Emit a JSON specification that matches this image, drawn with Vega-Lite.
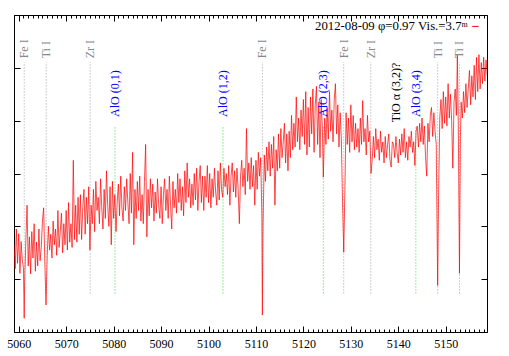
{
"$schema": "https://vega.github.io/schema/vega-lite/v6.json",
"width": 473, "height": 317,
"autosize": {"type": "none"},
"padding": {"left": 14, "top": 15, "right": 22, "bottom": 24},
"config": {
 "font": "Liberation Serif",
 "view": {"stroke": "#000", "strokeWidth": 1},
 "axis": {"grid": false, "domain": false, "tickColor": "#000", "labelFont": "Liberation Serif", "labelFontSize": 12, "labelColor": "#000", "title": null},
 "legend": {"orient": "none", "legendX": 455, "legendY": 5, "padding": 0, "symbolType": "stroke", "symbolSize": 40, "symbolStrokeWidth": 1, "labelAlign": "right", "labelOffset": -14, "labelFont": "Liberation Serif", "labelFontSize": 12.8, "labelColor": "#000", "labelLimit": 400}
},
"datasets": {
 "spec": [
{"w":5059.00,"f":1.65},{"w":5059.25,"f":1.20},{"w":5059.50,"f":1.95},{"w":5059.75,"f":1.30},
{"w":5060.00,"f":1.86},{"w":5060.25,"f":1.11},{"w":5060.50,"f":1.71},{"w":5060.75,"f":1.36},
{"w":5061.00,"f":1.20},{"w":5061.15,"f":0.26},{"w":5061.25,"f":0.95},{"w":5061.50,"f":1.75},{"w":5061.75,"f":2.40},
{"w":5062.00,"f":1.25},{"w":5062.25,"f":1.80},{"w":5062.50,"f":1.10},{"w":5062.75,"f":1.90},
{"w":5063.00,"f":1.40},{"w":5063.25,"f":2.05},{"w":5063.50,"f":1.15},{"w":5063.75,"f":1.70},
{"w":5064.00,"f":1.25},{"w":5064.25,"f":1.95},{"w":5064.50,"f":1.35},{"w":5064.75,"f":1.60},
{"w":5065.00,"f":2.10},{"w":5065.25,"f":2.35},{"w":5065.50,"f":1.30},{"w":5065.75,"f":0.51},
{"w":5066.00,"f":1.45},{"w":5066.25,"f":2.00},{"w":5066.50,"f":1.55},{"w":5066.75,"f":1.85},
{"w":5067.00,"f":1.40},{"w":5067.25,"f":2.10},{"w":5067.50,"f":1.65},{"w":5067.75,"f":1.95},
{"w":5068.00,"f":1.45},{"w":5068.25,"f":2.30},{"w":5068.50,"f":1.60},{"w":5068.75,"f":1.90},
{"w":5069.00,"f":2.25},{"w":5069.25,"f":1.50},{"w":5069.50,"f":2.05},{"w":5069.75,"f":1.65},
{"w":5070.00,"f":2.30},{"w":5070.25,"f":1.55},{"w":5070.50,"f":2.45},{"w":5070.75,"f":1.70},
{"w":5071.00,"f":2.05},{"w":5071.25,"f":1.60},{"w":5071.50,"f":3.25},{"w":5071.75,"f":1.75},
{"w":5072.00,"f":2.40},{"w":5072.25,"f":1.70},{"w":5072.50,"f":2.55},{"w":5072.75,"f":1.85},
{"w":5073.00,"f":2.60},{"w":5073.25,"f":1.75},{"w":5073.50,"f":2.35},{"w":5073.75,"f":2.70},
{"w":5074.00,"f":1.85},{"w":5074.25,"f":2.55},{"w":5074.50,"f":2.05},{"w":5074.75,"f":2.75},
{"w":5075.00,"f":1.55},{"w":5075.25,"f":2.40},{"w":5075.50,"f":2.05},{"w":5075.75,"f":2.70},
{"w":5076.00,"f":1.90},{"w":5076.25,"f":2.85},{"w":5076.50,"f":2.30},{"w":5076.75,"f":2.55},
{"w":5077.00,"f":2.05},{"w":5077.25,"f":2.90},{"w":5077.50,"f":2.35},{"w":5077.75,"f":1.95},
{"w":5078.00,"f":2.70},{"w":5078.25,"f":2.15},{"w":5078.50,"f":3.05},{"w":5078.75,"f":2.40},
{"w":5079.00,"f":2.00},{"w":5079.25,"f":2.75},{"w":5079.50,"f":1.65},{"w":5079.75,"f":2.85},
{"w":5080.00,"f":2.15},{"w":5080.25,"f":2.60},{"w":5080.50,"f":1.90},{"w":5080.75,"f":2.45},
{"w":5081.00,"f":2.80},{"w":5081.25,"f":2.20},{"w":5081.50,"f":2.95},{"w":5081.75,"f":2.35},
{"w":5082.00,"f":2.10},{"w":5082.25,"f":2.75},{"w":5082.50,"f":2.30},{"w":5082.75,"f":2.90},
{"w":5083.00,"f":2.45},{"w":5083.25,"f":2.05},{"w":5083.50,"f":3.00},{"w":5083.75,"f":2.25},
{"w":5084.00,"f":3.40},{"w":5084.25,"f":1.65},{"w":5084.50,"f":2.70},{"w":5084.75,"f":2.15},
{"w":5085.00,"f":2.85},{"w":5085.25,"f":2.30},{"w":5085.50,"f":2.95},{"w":5085.75,"f":2.10},
{"w":5086.00,"f":2.60},{"w":5086.25,"f":2.05},{"w":5086.50,"f":2.85},{"w":5086.75,"f":3.55},
{"w":5087.00,"f":1.80},{"w":5087.25,"f":2.70},{"w":5087.50,"f":2.20},{"w":5087.75,"f":2.90},
{"w":5088.00,"f":2.35},{"w":5088.25,"f":2.80},{"w":5088.50,"f":2.10},{"w":5088.75,"f":2.65},
{"w":5089.00,"f":2.25},{"w":5089.25,"f":2.90},{"w":5089.50,"f":2.40},{"w":5089.75,"f":2.15},
{"w":5090.00,"f":2.75},{"w":5090.25,"f":2.05},{"w":5090.50,"f":2.60},{"w":5090.75,"f":2.90},
{"w":5091.00,"f":2.30},{"w":5091.25,"f":2.70},{"w":5091.50,"f":2.15},{"w":5091.75,"f":2.95},
{"w":5092.00,"f":2.40},{"w":5092.25,"f":1.95},{"w":5092.50,"f":2.85},{"w":5092.75,"f":2.35},
{"w":5093.00,"f":2.70},{"w":5093.25,"f":2.25},{"w":5093.50,"f":3.00},{"w":5093.75,"f":2.45},
{"w":5094.00,"f":2.90},{"w":5094.25,"f":2.30},{"w":5094.50,"f":2.75},{"w":5094.75,"f":2.20},
{"w":5095.00,"f":3.05},{"w":5095.25,"f":2.45},{"w":5095.50,"f":3.20},{"w":5095.75,"f":2.55},
{"w":5096.00,"f":2.90},{"w":5096.25,"f":2.35},{"w":5096.50,"f":2.80},{"w":5096.75,"f":2.40},
{"w":5097.00,"f":3.00},{"w":5097.25,"f":2.50},{"w":5097.50,"f":3.10},{"w":5097.75,"f":2.30},
{"w":5098.00,"f":2.85},{"w":5098.25,"f":3.15},{"w":5098.50,"f":2.45},{"w":5098.75,"f":2.95},
{"w":5099.00,"f":2.30},{"w":5099.25,"f":2.95},{"w":5099.50,"f":2.55},{"w":5099.75,"f":3.15},
{"w":5100.00,"f":2.45},{"w":5100.25,"f":3.00},{"w":5100.50,"f":2.35},{"w":5100.75,"f":2.90},
{"w":5101.00,"f":2.55},{"w":5101.25,"f":3.10},{"w":5101.50,"f":2.65},{"w":5101.75,"f":2.40},
{"w":5102.00,"f":3.05},{"w":5102.25,"f":2.50},{"w":5102.50,"f":3.20},{"w":5102.75,"f":2.70},
{"w":5103.00,"f":2.55},{"w":5103.25,"f":3.10},{"w":5103.50,"f":2.75},{"w":5103.75,"f":3.00},
{"w":5104.00,"f":2.60},{"w":5104.25,"f":3.15},{"w":5104.50,"f":2.40},{"w":5104.75,"f":2.95},
{"w":5105.00,"f":3.20},{"w":5105.25,"f":2.65},{"w":5105.50,"f":3.05},{"w":5105.75,"f":2.55},
{"w":5106.00,"f":3.10},{"w":5106.25,"f":2.70},{"w":5106.50,"f":2.05},{"w":5106.75,"f":2.95},
{"w":5107.00,"f":3.25},{"w":5107.25,"f":2.75},{"w":5107.50,"f":3.10},{"w":5107.75,"f":2.60},
{"w":5108.00,"f":3.85},{"w":5108.25,"f":2.85},{"w":5108.50,"f":3.20},{"w":5108.75,"f":2.70},
{"w":5109.00,"f":3.30},{"w":5109.25,"f":2.75},{"w":5109.50,"f":3.15},{"w":5109.75,"f":2.40},
{"w":5110.00,"f":3.25},{"w":5110.25,"f":2.70},{"w":5110.50,"f":3.40},{"w":5110.75,"f":2.95},
{"w":5111.00,"f":3.30},{"w":5111.25,"f":2.20},{"w":5111.35,"f":0.32},{"w":5111.50,"f":2.00},{"w":5111.75,"f":3.35},
{"w":5112.00,"f":2.85},{"w":5112.25,"f":3.50},{"w":5112.50,"f":3.05},{"w":5112.75,"f":3.60},
{"w":5113.00,"f":2.95},{"w":5113.25,"f":3.55},{"w":5113.50,"f":3.10},{"w":5113.75,"f":3.70},
{"w":5114.00,"f":2.40},{"w":5114.25,"f":3.45},{"w":5114.50,"f":3.05},{"w":5114.75,"f":3.75},
{"w":5115.00,"f":3.10},{"w":5115.25,"f":3.85},{"w":5115.50,"f":3.30},{"w":5115.75,"f":3.60},
{"w":5116.00,"f":3.95},{"w":5116.25,"f":3.20},{"w":5116.50,"f":3.75},{"w":5116.75,"f":3.05},
{"w":5117.00,"f":3.80},{"w":5117.25,"f":3.30},{"w":5117.50,"f":4.10},{"w":5117.75,"f":3.45},
{"w":5118.00,"f":3.95},{"w":5118.25,"f":3.50},{"w":5118.50,"f":4.45},{"w":5118.75,"f":3.60},
{"w":5119.00,"f":4.05},{"w":5119.25,"f":3.45},{"w":5119.50,"f":4.20},{"w":5119.75,"f":3.70},
{"w":5120.00,"f":4.40},{"w":5120.25,"f":3.55},{"w":5120.50,"f":4.55},{"w":5120.75,"f":3.35},
{"w":5121.00,"f":4.25},{"w":5121.25,"f":3.50},{"w":5121.50,"f":4.45},{"w":5121.75,"f":3.75},
{"w":5122.00,"f":4.60},{"w":5122.25,"f":3.40},{"w":5122.50,"f":4.30},{"w":5122.75,"f":4.65},
{"w":5123.00,"f":3.55},{"w":5123.25,"f":4.35},{"w":5123.50,"f":3.30},{"w":5123.75,"f":4.40},
{"w":5124.00,"f":3.85},{"w":5124.20,"f":2.93},{"w":5124.50,"f":4.05},{"w":5124.75,"f":3.55},
{"w":5125.00,"f":4.25},{"w":5125.25,"f":3.65},{"w":5125.50,"f":4.55},{"w":5125.75,"f":3.80},
{"w":5126.00,"f":4.20},{"w":5126.25,"f":3.60},{"w":5126.50,"f":4.40},{"w":5126.75,"f":4.70},
{"w":5127.00,"f":3.75},{"w":5127.25,"f":4.30},{"w":5127.50,"f":3.50},{"w":5127.75,"f":4.15},
{"w":5128.00,"f":3.65},{"w":5128.25,"f":2.45},{"w":5128.50,"f":1.51},{"w":5128.75,"f":2.70},
{"w":5129.00,"f":4.15},{"w":5129.25,"f":3.55},{"w":5129.50,"f":4.05},{"w":5129.75,"f":3.40},
{"w":5130.00,"f":4.30},{"w":5130.25,"f":3.60},{"w":5130.50,"f":4.10},{"w":5130.75,"f":3.45},
{"w":5131.00,"f":3.95},{"w":5131.25,"f":3.50},{"w":5131.50,"f":3.85},{"w":5131.75,"f":3.40},
{"w":5132.00,"f":4.05},{"w":5132.25,"f":3.55},{"w":5132.50,"f":4.38},{"w":5132.75,"f":3.60},
{"w":5133.00,"f":3.85},{"w":5133.25,"f":3.35},{"w":5133.50,"f":4.10},{"w":5133.75,"f":3.60},
{"w":5134.00,"f":3.80},{"w":5134.25,"f":3.00},{"w":5134.50,"f":3.25},{"w":5134.75,"f":3.70},
{"w":5135.00,"f":3.30},{"w":5135.25,"f":3.85},{"w":5135.50,"f":3.45},{"w":5135.75,"f":3.65},
{"w":5136.00,"f":3.25},{"w":5136.25,"f":3.80},{"w":5136.50,"f":3.40},{"w":5136.75,"f":3.60},
{"w":5137.00,"f":3.20},{"w":5137.25,"f":3.70},{"w":5137.50,"f":3.30},{"w":5137.75,"f":3.55},
{"w":5138.00,"f":3.75},{"w":5138.25,"f":3.25},{"w":5138.50,"f":3.12},{"w":5138.75,"f":3.60},
{"w":5139.00,"f":3.55},{"w":5139.25,"f":3.30},{"w":5139.50,"f":3.70},{"w":5139.75,"f":3.40},
{"w":5140.00,"f":3.20},{"w":5140.25,"f":3.65},{"w":5140.50,"f":3.35},{"w":5140.75,"f":3.75},
{"w":5141.00,"f":3.40},{"w":5141.25,"f":3.85},{"w":5141.50,"f":3.30},{"w":5141.75,"f":3.60},
{"w":5142.00,"f":3.25},{"w":5142.25,"f":3.70},{"w":5142.50,"f":3.50},{"w":5142.75,"f":3.80},
{"w":5143.00,"f":3.40},{"w":5143.25,"f":3.60},{"w":5143.50,"f":3.15},{"w":5143.75,"f":3.80},
{"w":5144.00,"f":3.90},{"w":5144.25,"f":3.50},{"w":5144.50,"f":3.95},{"w":5144.75,"f":3.60},
{"w":5145.00,"f":4.05},{"w":5145.25,"f":3.55},{"w":5145.50,"f":3.90},{"w":5145.75,"f":3.30},
{"w":5146.00,"f":2.95},{"w":5146.25,"f":3.95},{"w":5146.50,"f":3.60},{"w":5146.75,"f":4.10},
{"w":5147.00,"f":4.25},{"w":5147.25,"f":3.70},{"w":5147.50,"f":4.15},{"w":5147.75,"f":3.80},
{"w":5148.00,"f":3.55},{"w":5148.30,"f":0.88},{"w":5148.50,"f":2.60},{"w":5148.75,"f":4.05},
{"w":5149.00,"f":4.40},{"w":5149.25,"f":3.85},{"w":5149.50,"f":4.55},{"w":5149.75,"f":3.95},
{"w":5150.00,"f":4.45},{"w":5150.25,"f":3.90},{"w":5150.50,"f":4.70},{"w":5150.75,"f":4.05},
{"w":5151.00,"f":4.50},{"w":5151.25,"f":4.00},{"w":5151.50,"f":3.10},{"w":5151.75,"f":4.35},
{"w":5152.00,"f":4.60},{"w":5152.25,"f":4.10},{"w":5152.45,"f":5.24},{"w":5152.65,"f":3.90},{"w":5152.90,"f":1.11},
{"w":5153.10,"f":3.70},{"w":5153.25,"f":4.35},{"w":5153.50,"f":4.05},{"w":5153.75,"f":4.55},
{"w":5154.00,"f":4.15},{"w":5154.25,"f":4.70},{"w":5154.50,"f":4.25},{"w":5154.75,"f":4.60},
{"w":5155.00,"f":4.95},{"w":5155.25,"f":4.30},{"w":5155.50,"f":4.85},{"w":5155.75,"f":4.45},
{"w":5156.00,"f":5.05},{"w":5156.25,"f":4.40},{"w":5156.50,"f":5.20},{"w":5156.75,"f":4.55},
{"w":5157.00,"f":5.25},{"w":5157.25,"f":4.60},{"w":5157.50,"f":5.10},{"w":5157.75,"f":4.70},
{"w":5158.00,"f":5.20},{"w":5158.25,"f":4.75},{"w":5158.50,"f":5.15},{"w":5158.75,"f":4.85}
 ],
 "atoms": [
  {"w":5061.16,"name":"Fe I"},{"w":5065.79,"name":"Ti I"},{"w":5075.05,"name":"Zr I"},{"w":5111.35,"name":"Fe I"},
  {"w":5128.5,"name":"Fe I"},{"w":5134.2,"name":"Zr I"},{"w":5148.3,"name":"Ti I"},{"w":5152.9,"name":"Ti I"}
 ],
 "alo": [
  {"w":5080.3,"name":"AlO (0,1)"},{"w":5103.05,"name":"AlO (1,2)"},{"w":5124.2,"name":"AlO (2,3)"},{"w":5143.7,"name":"AlO (3,4)"}
 ],
 "tio": [
  {"w":5139.6,"name":"TiO α (3,2)?"}
 ]
},
"resolve": {"axis": {"x": "independent", "y": "independent"}},
"layer": [
 {
  "data": {"name": "atoms"},
  "mark": {"type": "rule", "strokeDash": [1, 2], "color": "#a0a0a0", "strokeWidth": 1},
  "encoding": {
   "x": {"field": "w", "type": "quantitative", "scale": {"domain": [5059, 5158.7], "nice": false, "zero": false},
         "axis": {"orient": "top", "tickCount": 100, "labels": false, "tickSize": {"condition": {"test": "datum.value % 10 === 0", "value": -6}, "value": -3}}},
   "y": {"datum": 0.73, "type": "quantitative", "scale": {"domain": [0, 6], "nice": false, "zero": false},
         "axis": {"orient": "right", "values": [0, 1, 2, 3, 4, 5, 6], "labels": false, "tickSize": -6}},
   "y2": {"datum": 5.11}
  }
 },
 {
  "data": {"name": "alo"},
  "mark": {"type": "rule", "strokeDash": [1, 2], "color": "#33dd33", "strokeWidth": 1},
  "encoding": {
   "x": {"field": "w", "type": "quantitative", "axis": null},
   "y": {"datum": 0.73, "type": "quantitative", "axis": null},
   "y2": {"datum": 3.9}
  }
 },
 {
  "data": {"name": "spec"},
  "mark": {"type": "line", "strokeWidth": 0.7, "clip": true},
  "encoding": {
   "x": {"field": "w", "type": "quantitative",
         "axis": {"orient": "bottom", "tickCount": 100, "format": "d", "labelFlush": false, "labelOverlap": false,
                  "labelExpr": "datum.value % 10 === 0 ? datum.label : ''", "labelPadding": 12,
                  "tickSize": {"condition": {"test": "datum.value % 10 === 0", "value": -6}, "value": -3}}},
   "y": {"field": "f", "type": "quantitative",
         "axis": {"orient": "left", "values": [0, 1, 2, 3, 4, 5, 6], "labels": false, "tickSize": -6}},
   "color": {"datum": "2012-08-09 φ=0.97 Vis.=3.7ᵐ", "type": "nominal",
             "scale": {"domain": ["2012-08-09 φ=0.97 Vis.=3.7ᵐ"], "range": ["#ff0000"]},
             "legend": {"title": null}}
  }
 },
 {
  "data": {"name": "atoms"},
  "mark": {"type": "text", "angle": 270, "align": "left", "baseline": "middle", "color": "#888888", "fontSize": 12, "font": "Liberation Serif"},
  "encoding": {
   "x": {"field": "w", "type": "quantitative", "axis": null},
   "y": {"datum": 5.18, "type": "quantitative", "axis": null},
   "text": {"field": "name"}
  }
 },
 {
  "data": {"name": "alo"},
  "mark": {"type": "text", "angle": 270, "align": "left", "baseline": "middle", "color": "#0000ff", "fontSize": 12, "font": "Liberation Serif"},
  "encoding": {
   "x": {"field": "w", "type": "quantitative", "axis": null},
   "y": {"datum": 4.07, "type": "quantitative", "axis": null},
   "text": {"field": "name"}
  }
 },
 {
  "data": {"name": "tio"},
  "mark": {"type": "text", "angle": 270, "align": "left", "baseline": "middle", "color": "#000000", "fontSize": 12, "font": "Liberation Serif"},
  "encoding": {
   "x": {"field": "w", "type": "quantitative", "axis": null},
   "y": {"datum": 3.97, "type": "quantitative", "axis": null},
   "text": {"field": "name"}
  }
 }
]
}
